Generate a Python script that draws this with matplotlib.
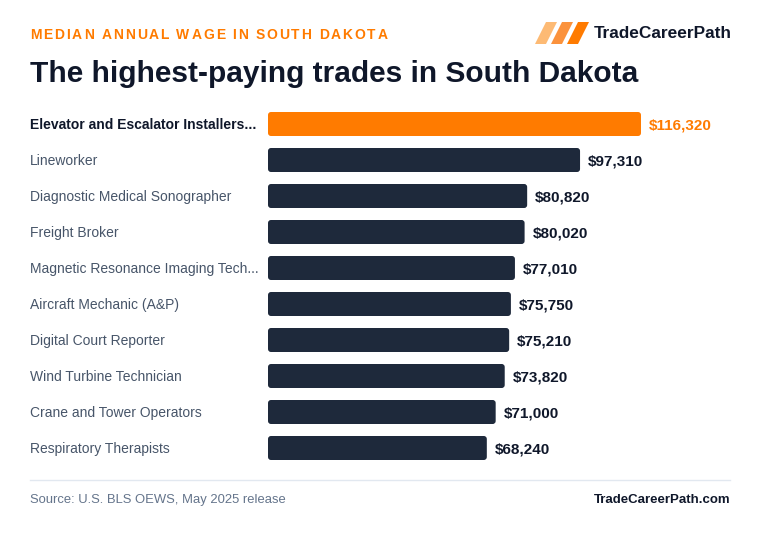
import matplotlib
matplotlib.use("Agg")
import matplotlib.pyplot as plt
from matplotlib.patches import FancyBboxPatch, Polygon
from matplotlib.lines import Line2D

plt.rcParams['font.family'] = ['Liberation Sans', 'DejaVu Sans']

# data
trades = [
    "Elevator and Escalator Installers...",
    "Lineworker",
    "Diagnostic Medical Sonographer",
    "Freight Broker",
    "Magnetic Resonance Imaging Tech...",
    "Aircraft Mechanic (A&P)",
    "Digital Court Reporter",
    "Wind Turbine Technician",
    "Crane and Tower Operators",
    "Respiratory Therapists",
]
wages = [116320, 97310, 80820, 80020, 77010, 75750, 75210, 73820, 71000, 68240]

ORANGE = "#ff7b00"
NAVY = "#1e293b"
INK = "#0f172a"
GREY = "#475569"

W, H = 760, 536
fig = plt.figure(figsize=(W / 100, H / 100), dpi=100)
fig.patch.set_facecolor("white")


def fx(px):
    return px / W


def fy(py):
    return 1 - py / H


# chart area in pixels
ax_left, ax_right, ax_top, ax_bottom = 268, 730, 106, 466
ax = fig.add_axes([fx(ax_left), fy(ax_bottom), fx(ax_right - ax_left), (ax_bottom - ax_top) / H])
xmax = wages[0] * (ax_right - ax_left) / (641 - ax_left)
ax.set_xlim(0, xmax)
ax.set_ylim(len(wages) - 0.5, -0.5)
ax.axis("off")

bar_h = 24 / 36
x_per_px = xmax / (ax_right - ax_left)
y_per_px = 1 / 36
rad = 3 * x_per_px
for i, (name, val) in enumerate(zip(trades, wages)):
    col = ORANGE if i == 0 else NAVY
    box = FancyBboxPatch((0, i - bar_h / 2), val, bar_h,
                         boxstyle=f"round,pad=0,rounding_size={rad}",
                         mutation_aspect=y_per_px / x_per_px,
                         facecolor=col, edgecolor="none")
    ax.add_patch(box)
    ax.text(val + 8 * x_per_px, i + y_per_px, f"${val:,}", va="center", ha="left",
            fontsize=11, fontweight="bold", color=ORANGE if i == 0 else INK)
    fig.text(fx(30), fy(125 + 36 * i), name, va="center", ha="left",
             fontsize=10, fontweight="bold" if i == 0 else "normal",
             color=INK if i == 0 else GREY)

# letter-spaced subtitle
renderer = fig.canvas.get_renderer()
sub = "MEDIAN ANNUAL WAGE IN SOUTH DAKOTA"
x = 30.0
for ch in sub:
    t = fig.text(fx(x), fy(35), ch, va="center", ha="left", fontsize=10,
                 fontweight="bold", color=ORANGE)
    if ch == " ":
        w = 3.5
    else:
        w = t.get_window_extent(renderer).width
    x += w + 1.9

fig.text(fx(30), fy(74), "The highest-paying trades in South Dakota", va="center",
         ha="left", fontsize=21.5, fontweight="bold", color=INK)

# logo
shades = ["#fdba74", "#fb923c", ORANGE]
for k, c in enumerate(shades):
    x0 = 535 + k * 16
    pts = [(x0, 44), (x0 + 11, 44), (x0 + 22, 22), (x0 + 11, 22)]
    fig.patches.append(Polygon([(fx(a), fy(b)) for a, b in pts], closed=True,
                               transform=fig.transFigure, facecolor=c, edgecolor="none"))
fig.text(fx(594), fy(34), "TradeCareerPath", va="center", ha="left",
         fontsize=12.4, fontweight="bold", color=INK)

# footer
fig.lines.append(Line2D([fx(30), fx(730)], [fy(480), fy(480)], transform=fig.transFigure,
                        color="#e2e8f0", lw=1))
fig.text(fx(30), fy(500), "Source: U.S. BLS OEWS, May 2025 release", va="center",
         ha="left", fontsize=9.4, color="#64748b")
fig.text(fx(730), fy(500), "TradeCareerPath.com", va="center", ha="right",
         fontsize=9.5, fontweight="bold", color=INK)

fig.savefig("out.png", dpi=100, facecolor="white")
